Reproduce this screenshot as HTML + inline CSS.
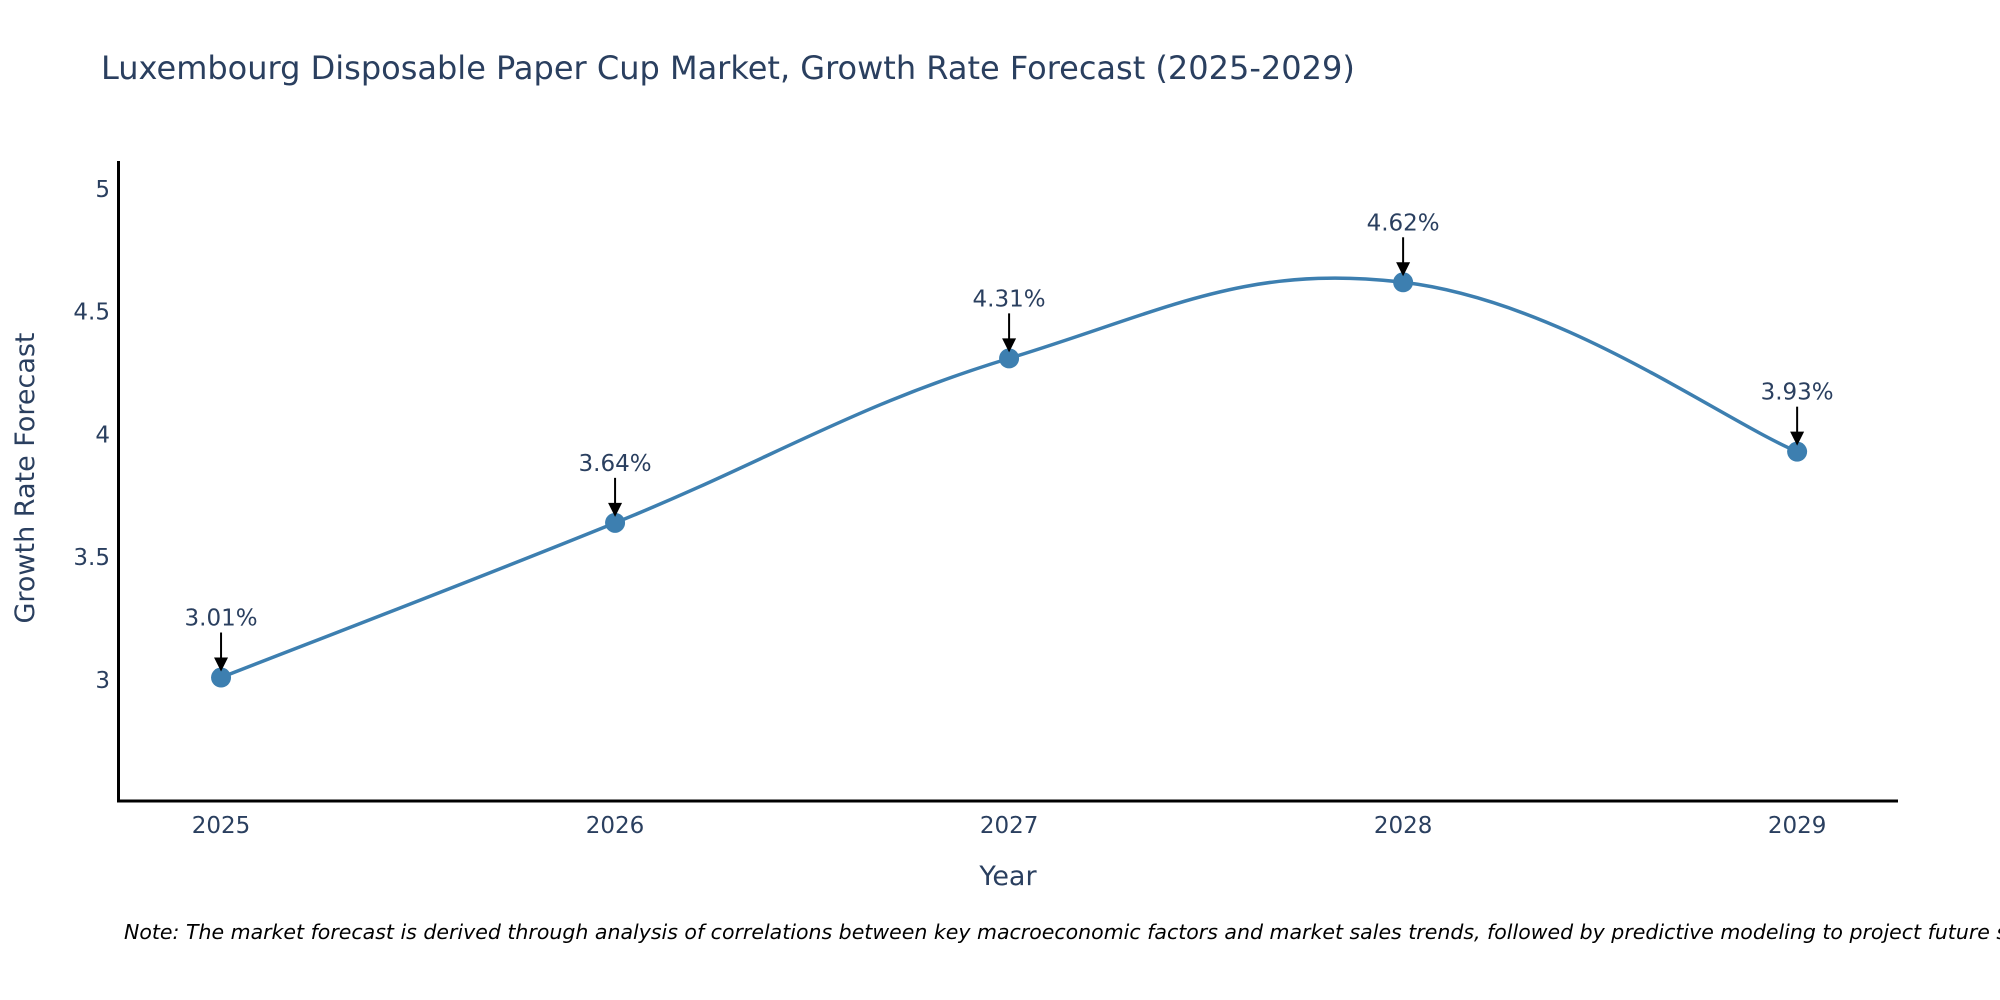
<!DOCTYPE html>
<html><head><meta charset="utf-8"><style>
body{margin:0;background:#fff;}
svg{display:block;font-family:"DejaVu Sans","Liberation Sans",sans-serif;}
</style></head><body>
<svg id="chart" width="2000" height="1000" viewBox="0 0 2000 1000">
<rect width="2000" height="1000" fill="#fff"/>
<text x="101" y="79" font-size="32" fill="#2a3f5f">Luxembourg Disposable Paper Cup Market, Growth Rate Forecast (2025-2029)</text>
<g id="yticks"></g>
<g id="xticks"></g>
<line x1="118.5" y1="161" x2="118.5" y2="802" stroke="#000" stroke-width="3"/>
<line x1="117" y1="801" x2="1898" y2="801" stroke="#000" stroke-width="3"/>
<text transform="translate(34,478) rotate(-90)" text-anchor="middle" font-size="27" fill="#2a3f5f">Growth Rate Forecast</text>
<text x="1008" y="885" text-anchor="middle" font-size="27" fill="#2a3f5f">Year</text>
<g id="series"></g>
<g id="annots"></g>
<text x="124" y="939" font-size="20.5" font-style="italic" fill="#000">Note: The market forecast is derived through analysis of correlations between key macroeconomic factors and market sales trends, followed by predictive modeling to project future sales.</text>
</svg>
<script>
const years = [2025, 2026, 2027, 2028, 2029];
const values = [3.01, 3.64, 4.31, 4.62, 3.93];
const labels = ["3.01%", "3.64%", "4.31%", "4.62%", "3.93%"];
const yTickValues = [3, 3.5, 4, 4.5, 5];
const yTickLabels = ["3", "3.5", "4", "4.5", "5"];

const NS = "http://www.w3.org/2000/svg";
const xMin = 2024.74, xMax = 2029.256, pxL = 118.6, pxR = 1898;
const yMin = 2.507, yMax = 5.114, pyB = 801, pyT = 161;
const X = v => pxL + (v - xMin) / (xMax - xMin) * (pxR - pxL);
const Y = v => pyB - (v - yMin) / (yMax - yMin) * (pyB - pyT);
function mk(tag, attrs, parent, txt) {
  const el = document.createElementNS(NS, tag);
  for (const k in attrs) el.setAttribute(k, attrs[k]);
  if (txt !== undefined) el.textContent = txt;
  parent.appendChild(el);
  return el;
}
const yt = document.getElementById('yticks');
yTickValues.forEach((v, i) => {
  const t = mk('text', {x: 110, y: Y(v) + 8, 'text-anchor': 'end', 'font-size': 23, fill: '#2a3f5f'}, yt, yTickLabels[i]);
  
  
});
const xt = document.getElementById('xticks');
years.forEach(y => {
  const t = mk('text', {x: X(y), y: 833, 'text-anchor': 'middle', 'font-size': 23, fill: '#2a3f5f'}, xt, String(y));
  
  
});
const pts = years.map((y, i) => [X(y), Y(values[i])]);
let d = `M${pts[0][0]},${pts[0][1]}`;
const s = 0.2;
for (let i = 0; i < pts.length - 1; i++) {
  const p0 = pts[Math.max(0, i - 1)], p1 = pts[i], p2 = pts[i + 1], p3 = pts[Math.min(pts.length - 1, i + 2)];
  const c1 = [p1[0] + (p2[0] - p0[0]) * s, p1[1] + (p2[1] - p0[1]) * s];
  const c2 = [p2[0] - (p3[0] - p1[0]) * s, p2[1] - (p3[1] - p1[1]) * s];
  d += ` C${c1[0]},${c1[1]} ${c2[0]},${c2[1]} ${p2[0]},${p2[1]}`;
}
const ser = document.getElementById('series');
const line = mk('path', {d: d, fill: 'none', stroke: '#3d7fb0', 'stroke-width': 3.5}, ser);


const an = document.getElementById('annots');
pts.forEach((p, i) => {
  const c = mk('circle', {cx: p[0], cy: p[1], r: 10, fill: '#3d7fb0'}, ser);
  
  
  const l = mk('line', {x1: p[0], y1: p[1] - 45, x2: p[0], y2: p[1] - 18, stroke: '#000', 'stroke-width': 2}, an);
  
  
  const h = mk('path', {d: `M${p[0]-7},${p[1]-20} L${p[0]+7},${p[1]-20} L${p[0]},${p[1]-6} Z`, fill: '#000'}, an);
  
  
  const t = mk('text', {x: p[0], y: p[1] - 52, 'text-anchor': 'middle', 'font-size': 23, fill: '#2a3f5f'}, an, labels[i]);
  
  
});
</script>
</body></html>
